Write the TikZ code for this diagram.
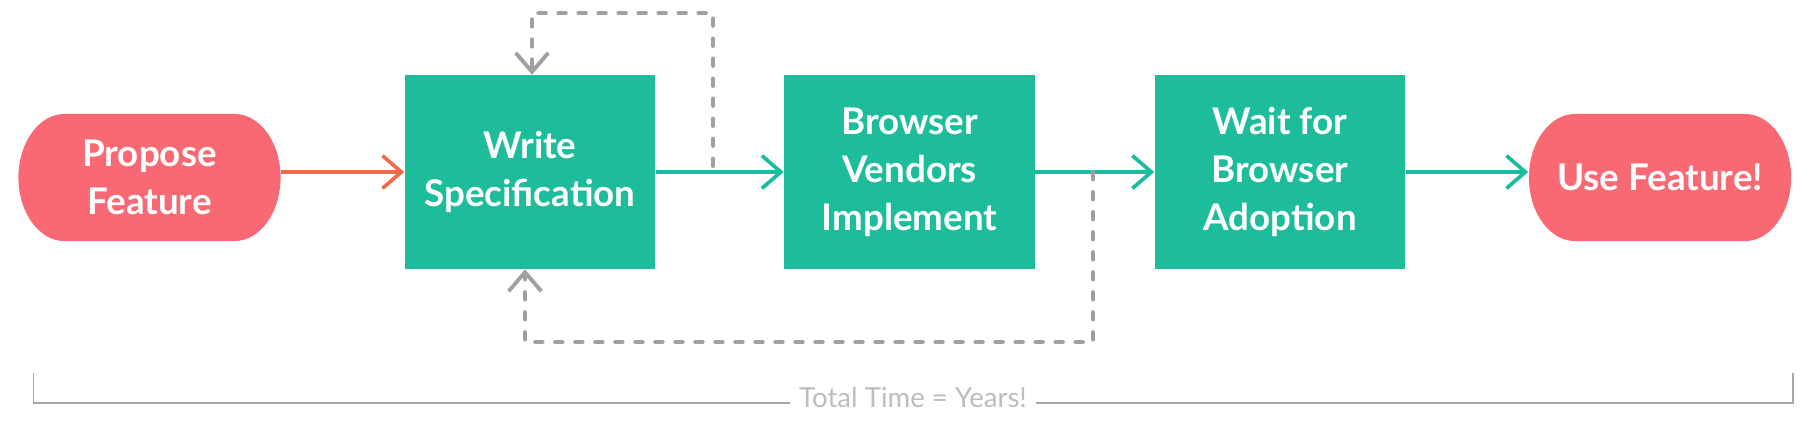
\documentclass[tikz,border=0pt]{standalone}
\usepackage{fontspec}
\setmainfont{Lato}
\usetikzlibrary{positioning}
\usetikzlibrary{arrows.meta}
\usetikzlibrary{calc}
\definecolor{pillred}{HTML}{F96974}
\definecolor{boxteal}{HTML}{1DBD9B}
\definecolor{arrowteal}{HTML}{1ABC9E}
\definecolor{arroworange}{HTML}{F26A4B}
\definecolor{loopgray}{HTML}{A0A0A0}
\definecolor{bracketgray}{HTML}{A8A8A8}
\definecolor{totalgray}{HTML}{BDBDBD}
\tikzstyle{label font} = [text=white, align=center, font=\bfseries\fontsize{10.45}{13.6}\selectfont]
\tikzstyle{stepbox} = [label font, fill=boxteal, minimum width=2.5cm, minimum height=1.93cm, inner sep=0]
\tikzstyle{pill} = [label font, minimum width=2.62cm, minimum height=1.27cm, inner sep=0,
	path picture={\fill[pillred] ($(path picture bounding box.north west)+(0.46cm,0)$)
		-- ($(path picture bounding box.north east)+(-0.46cm,0)$) arc[start angle=90, end angle=-90, x radius=0.46cm, y radius=0.635cm]
		-- ($(path picture bounding box.south west)+(0.46cm,0)$) arc[start angle=270, end angle=90, x radius=0.46cm, y radius=0.635cm]
		-- cycle;}]
\tikzstyle{barb} = [-{Straight Barb[length=5.4pt,width=9.3pt]}]
\tikzstyle{flow} = [barb, line width=1.05pt, color=arrowteal]
\tikzstyle{feedback} = [barb, line width=1.1pt, color=loopgray, dash pattern=on 0.075cm off 0.125cm, line cap=round]
\tikzstyle{bracket} = [line width=0.45pt, color=bracketgray]

\begin{document}
\begin{tikzpicture}[x=0.01cm, y=-0.01cm]
	\useasboundingbox (0,0) rectangle (1810,426);

	\node (propose) at(149.5,177.5) [pill] {Propose\\Feature};
	\node (spec)    at(530,172)     [stepbox] {Write\\Specification};
	\node (vendors) at(909.5,172)   [stepbox] {Browser\\Vendors\\Implement};
	\node (adopt)   at(1280,172)    [stepbox] {Wait for\\Browser\\Adoption};
	\node (use)     at(1660,177.5)  [pill] {Use Feature!};

	\draw[flow, color=arroworange] (propose.east |- spec.west) -- (spec.west);
	\draw[flow] (spec.east) -- (vendors.west);
	\draw[flow] (vendors.east) -- (adopt.west);
	\draw[flow] (adopt.east) -- (use.west |- adopt.east);

	\coordinate (loop top) at(713,166);
	\coordinate (loop bottom) at(1093,172);
	\draw[feedback] (loop top) -- ++(0,-153) -| ([xshift=0.02cm]spec.north);
	\draw[feedback] (loop bottom) -- ++(0,170) -| ([xshift=-0.05cm]spec.south);

	\node (total) at(913,407) [anchor=base, inner xsep=2.3pt, text=totalgray, font=\fontsize{7.85}{9}\selectfont] {Total Time = Years!};
	\coordinate (bracket left) at(33.5,373);
	\coordinate (bracket right) at(1793,373);
	\draw[bracket] (bracket left) |- ([yshift=0.04cm]total.base west);
	\draw[bracket] ([yshift=0.04cm]total.base east) -| (bracket right);
\end{tikzpicture}
\end{document}
